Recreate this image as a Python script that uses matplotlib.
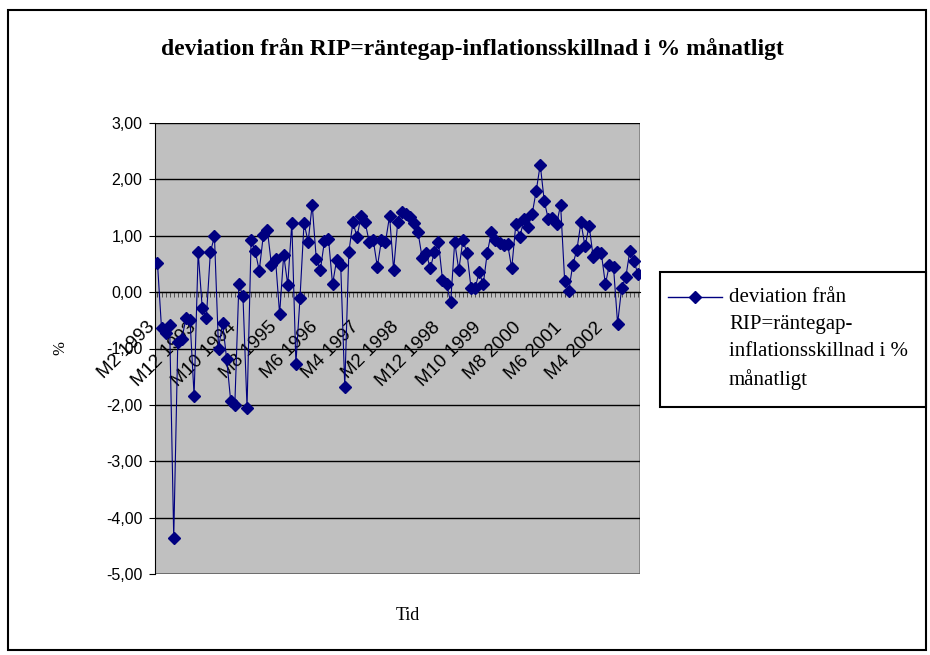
import matplotlib
matplotlib.use('Agg')
import matplotlib.pyplot as plt
from matplotlib.patches import Rectangle
from matplotlib.lines import Line2D
from matplotlib.transforms import ScaledTranslation

# monthly deviation, M2 1993 .. M12 2002
start_year = 1993
start_month = 2
deviation = [
    0.52, -0.64, -0.72, -0.58, -4.36, -0.88, -0.83, -0.46, -0.49, -1.84,
    0.71, -0.28, -0.46, 0.71, 0.99, -1.00, -0.55, -1.19, -1.94, -2.00,
    0.14, -0.07, -2.05, 0.92, 0.73, 0.38, 1.01, 1.10, 0.48, 0.58,
    -0.39, 0.66, 0.13, 1.23, -1.27, -0.11, 1.23, 0.89, 1.55, 0.59,
    0.39, 0.90, 0.95, 0.14, 0.57, 0.49, -1.68, 0.71, 1.24, 0.98,
    1.35, 1.24, 0.89, 0.92, 0.45, 0.92, 0.89, 1.35, 0.39, 1.24,
    1.42, 1.39, 1.33, 1.22, 1.06, 0.61, 0.69, 0.42, 0.71, 0.89,
    0.22, 0.14, -0.18, 0.89, 0.39, 0.92, 0.70, 0.08, 0.07, 0.35,
    0.14, 0.70, 1.06, 0.93, 0.88, 0.83, 0.85, 0.42, 1.20, 0.98,
    1.29, 1.16, 1.38, 1.79, 2.26, 1.61, 1.29, 1.32, 1.20, 1.55,
    0.20, 0.02, 0.49, 0.75, 1.24, 0.81, 1.18, 0.63, 0.72, 0.69,
    0.14, 0.49, 0.44, -0.56, 0.08, 0.26, 0.73, 0.55, 0.32,
]
y_ticks = [3, 2, 1, 0, -1, -2, -3, -4, -5]

title = 'deviation från RIP=räntegap-inflationsskillnad i % månatligt'
series_name = 'deviation från\nRIP=räntegap-\ninflationsskillnad i %\nmånatligt'

months = []
for i in range(len(deviation)):
    m = start_month - 1 + i
    months.append('M%d %d' % (m % 12 + 1, start_year + m // 12))

serif = ['Liberation Serif', 'DejaVu Serif']
sans = ['Liberation Sans', 'DejaVu Sans']
navy = '#000080'

fig = plt.figure(figsize=(9.3, 6.55), dpi=100)
W, H = 930, 655

# outer chart border
fig.patches.append(Rectangle((8 / W, 5 / H), 918 / W, 640 / H, transform=fig.transFigure,
                             fill=False, edgecolor='black', linewidth=1.5))

ax = fig.add_axes([155 / W, 1 - 574 / H, 485 / W, 451 / H])
ax.set_facecolor('#C0C0C0')
x = list(range(len(deviation)))
ax.plot(x, deviation, color=navy, linewidth=0.8, marker='D', markersize=6.5,
        markerfacecolor=navy, markeredgecolor=navy, zorder=3)

ax.set_ylim(-5, 3)
ax.set_xlim(-0.6, len(deviation) - 0.5)
ax.set_yticks(y_ticks)
ax.set_yticklabels([('%.2f' % v).replace('.', ',') for v in y_ticks],
                   fontfamily=sans, fontsize=11.5)
for v in y_ticks:
    ax.axhline(v, color='black', linewidth=1, zorder=1)

# category axis crosses at zero
for side in ['top', 'right']:
    ax.spines[side].set_visible(False)
ax.spines['bottom'].set_position(('data', 0))
ax.spines['bottom'].set_color('black')
ax.spines['left'].set_color('black')
ax.add_patch(Rectangle((0, 0), 1, 1, transform=ax.transAxes, fill=False,
                       edgecolor='#808080', linewidth=1.2, zorder=0.5))

label_pos = x[::10]
ax.set_xticks(label_pos)
ax.set_xticks(x, minor=True)
ax.set_xticklabels([months[i] for i in label_pos], rotation=45, ha='right', va='center',
                   rotation_mode='anchor', fontfamily=sans, fontsize=13.5)
ax.tick_params(axis='x', which='both', direction='out', length=3.5, color='#404040', pad=20)
ax.tick_params(axis='y', direction='out', length=4, color='black', pad=5)
shift = ScaledTranslation(-5 / 100, 0, fig.dpi_scale_trans)
for lab in ax.get_xticklabels():
    lab.set_transform(lab.get_transform() + shift)

fig.text(472 / W, 1 - 49 / H, title, ha='center', va='center', fontfamily=serif,
         fontsize=17, fontweight='bold')
fig.text(60 / W, 1 - 348 / H, '%', ha='center', va='center', rotation=90,
         fontfamily=serif, fontsize=12)
fig.text(408 / W, 1 - 616 / H, 'Tid', ha='center', va='center', fontfamily=serif,
         fontsize=13)

# legend box
fig.patches.append(Rectangle((660 / W, 1 - 407 / H), 266 / W, 135 / H, transform=fig.transFigure,
                             fill=False, edgecolor='black', linewidth=1.5))
fig.lines.append(Line2D([668 / W, 722 / W], [1 - 297 / H, 1 - 297 / H], transform=fig.transFigure,
                        color=navy, linewidth=1))
fig.lines.append(Line2D([695 / W], [1 - 297 / H], transform=fig.transFigure, color=navy,
                        marker='D', markersize=6.5, linestyle='none'))
fig.text(729 / W, 1 - 288 / H, series_name, ha='left', va='top', fontfamily=serif,
         fontsize=15, linespacing=1.56)

fig.savefig('out.png', dpi=100)
